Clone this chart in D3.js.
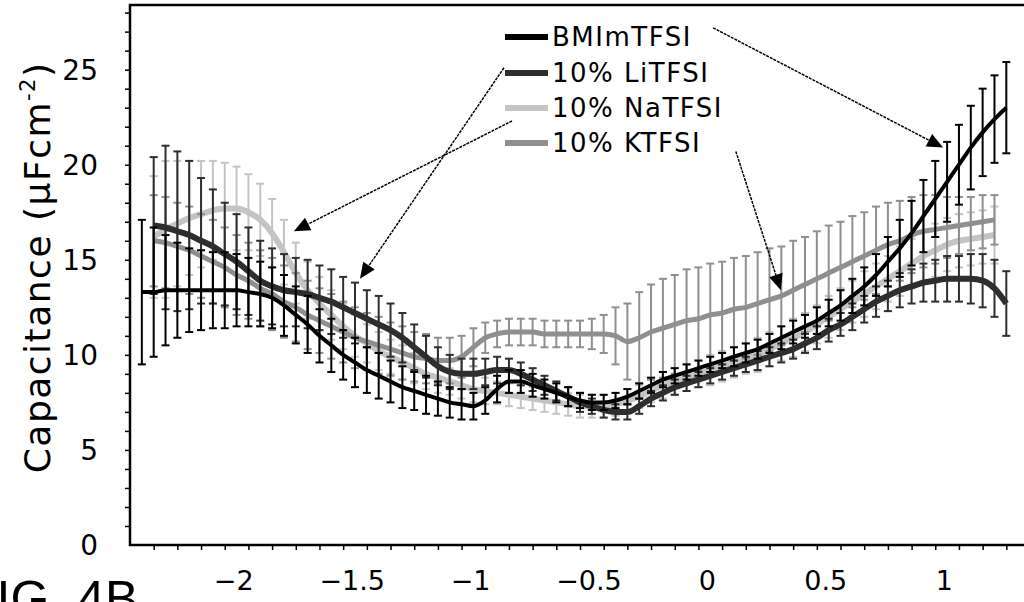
<!DOCTYPE html>
<html>
<head>
<meta charset="utf-8">
<script src="https://cdn.jsdelivr.net/npm/d3@7"></script>
<style>
  html, body { margin: 0; padding: 0; background: #fff; }
  svg { display: block; }
</style>
</head>
<body>
<div id="chart"></div>
<script>
// Potential (V) where each point was measured
const voltages = [
  -2.35, -2.30, -2.25, -2.20, -2.15, -2.10, -2.05, -2.00, -1.95, -1.90,
  -1.85, -1.80, -1.75, -1.70, -1.65, -1.60, -1.55, -1.50, -1.45, -1.40,
  -1.35, -1.30, -1.25, -1.20, -1.15, -1.10, -1.05, -1.00, -0.95, -0.90,
  -0.85, -0.80, -0.75, -0.70, -0.65, -0.60, -0.55, -0.50, -0.45, -0.40,
  -0.35, -0.30, -0.25, -0.20, -0.15, -0.10, -0.05, 0.00, 0.05, 0.10,
  0.15, 0.20, 0.25, 0.30, 0.35, 0.40, 0.45, 0.50, 0.55, 0.60,
  0.65, 0.70, 0.75, 0.80, 0.85, 0.90, 0.95, 1.00, 1.05, 1.10,
  1.15, 1.20, 1.25, 1.30
];

const seriesNames = ['BMImTFSI', '10% LiTFSI', '10% NaTFSI', '10% KTFSI'];

// capacitance, uF/cm2
const bmimValues = [
  13.3, 13.3, 13.4, 13.4, 13.4, 13.4, 13.4, 13.4, 13.4, 13.3,
  13.2, 13.0, 12.6, 12.1, 11.6, 11.0, 10.5, 10.0, 9.6, 9.2,
  8.9, 8.6, 8.3, 8.1, 7.9, 7.7, 7.5, 7.4, 7.3, 7.6,
  8.2, 8.6, 8.6, 8.4, 8.2, 8.0, 7.8, 7.6, 7.5, 7.5,
  7.6, 7.8, 8.1, 8.4, 8.7, 8.9, 9.1, 9.3, 9.5, 9.7,
  9.9, 10.1, 10.3, 10.6, 10.9, 11.2, 11.5, 11.8, 12.2, 12.6,
  13.1, 13.6, 14.2, 14.9, 15.6, 16.4, 17.3, 18.2, 19.1, 20.0,
  20.9, 21.7, 22.4, 23.0
];
const bmimErr = [
  3.8, 3.4, 2.9, 2.5, 2.2, 2.1, 2.0, 2.0, 1.9, 1.8,
  1.7, 1.6, 1.6, 1.5, 1.5, 1.4, 1.4, 1.3, 1.3, 1.2,
  1.2, 1.1, 1.1, 1.0, 1.0, 0.9, 0.8, 0.8, 0.7, 0.7,
  0.7, 0.6, 0.6, 0.6, 0.5, 0.5, 0.5, 0.4, 0.4, 0.4,
  0.4, 0.4, 0.4, 0.4, 0.4, 0.4, 0.4, 0.4, 0.4, 0.4,
  0.5, 0.5, 0.5, 0.5, 0.6, 0.6, 0.6, 0.7, 0.7, 0.8,
  0.9, 1.0, 1.1, 1.3, 1.5, 1.7, 1.9, 2.0, 2.1, 2.1,
  2.2, 2.3, 2.3, 2.4
];

const liValues = [
  null, 16.8, 16.7, 16.5, 16.3, 16.0, 15.7, 15.3, 14.9, 14.4,
  13.9, 13.6, 13.4, 13.3, 13.2, 13.0, 12.8, 12.5, 12.2, 11.9,
  11.6, 11.3, 10.9, 10.4, 9.9, 9.4, 9.1, 9.0, 9.0, 9.1,
  9.2, 9.2, 9.0, 8.7, 8.4, 8.1, 7.8, 7.5, 7.3, 7.1,
  7.0, 7.0, 7.3, 7.7, 8.0, 8.3, 8.5, 8.7, 8.9, 9.1,
  9.3, 9.5, 9.7, 9.9, 10.1, 10.3, 10.6, 10.9, 11.3, 11.6,
  12.0, 12.4, 12.8, 13.1, 13.4, 13.6, 13.8, 13.9, 14.0, 14.0,
  14.0, 13.9, 13.5, 12.7
];
const liErr = [
  null, 3.6, 4.3, 4.2, 3.9, 3.3, 3.0, 2.7, 2.5, 2.3,
  2.1, 2.0, 1.9, 1.8, 1.8, 1.7, 1.7, 1.6, 1.6, 1.5,
  1.5, 1.4, 1.3, 1.2, 1.1, 1.0, 0.9, 0.8, 0.8, 0.7,
  0.7, 0.6, 0.6, 0.6, 0.5, 0.5, 0.5, 0.5, 0.4, 0.4,
  0.4, 0.4, 0.4, 0.4, 0.4, 0.4, 0.4, 0.4, 0.4, 0.4,
  0.4, 0.4, 0.5, 0.5, 0.5, 0.5, 0.5, 0.6, 0.6, 0.6,
  0.7, 0.7, 0.8, 0.8, 0.9, 0.9, 1.0, 1.1, 1.2, 1.2,
  1.3, 1.4, 1.5, 1.7
];

const naValues = [
  null, 16.2, 16.6, 16.9, 17.2, 17.4, 17.6, 17.7, 17.7, 17.5,
  17.1, 16.4, 15.4, 14.3, 13.4, 12.7, 12.1, 11.5, 11.0, 10.6,
  10.2, 9.9, 9.6, 9.3, 9.0, 8.8, 8.6, 8.4, 8.2, 8.1,
  8.0, 7.9, 7.8, 7.7, 7.6, 7.5, 7.4, 7.3, 7.3, 7.3,
  7.4, 7.6, 7.8, 8.1, 8.4, 8.6, 8.8, 9.0, 9.2, 9.4,
  9.6, 9.8, 10.0, 10.3, 10.6, 10.9, 11.2, 11.6, 12.0, 12.4,
  12.8, 13.2, 13.6, 14.0, 14.4, 14.8, 15.2, 15.5, 15.8, 16.0,
  16.1, 16.2, 16.3, null
];
const naErr = [
  null, 3.2, 3.6, 3.3, 3.0, 2.8, 2.6, 2.4, 2.2, 2.0,
  1.9, 1.8, 1.7, 1.6, 1.5, 1.4, 1.3, 1.2, 1.1, 1.0,
  1.0, 0.9, 0.9, 0.8, 0.8, 0.8, 0.7, 0.7, 0.7, 0.7,
  0.6, 0.6, 0.6, 0.6, 0.6, 0.6, 0.6, 0.6, 0.6, 0.6,
  0.6, 0.6, 0.6, 0.6, 0.7, 0.7, 0.7, 0.7, 0.8, 0.8,
  0.8, 0.8, 0.9, 0.9, 0.9, 1.0, 1.0, 1.0, 1.1, 1.1,
  1.1, 1.2, 1.2, 1.2, 1.3, 1.3, 1.3, 1.4, 1.4, 1.4,
  1.4, 1.4, 1.5, null
];

const kValues = [
  null, 16.0, 15.9, 15.7, 15.5, 15.2, 14.9, 14.6, 14.2, 13.9,
  13.5, 13.2, 12.8, 12.5, 12.1, 11.8, 11.5, 11.2, 10.9, 10.7,
  10.5, 10.3, 10.1, 9.9, 9.8, 9.7, 9.7, 9.9, 10.4, 10.9,
  11.1, 11.2, 11.2, 11.2, 11.1, 11.1, 11.1, 11.1, 11.1, 11.1,
  11.0, 10.7, 10.9, 11.2, 11.4, 11.6, 11.8, 11.9, 12.1, 12.2,
  12.4, 12.5, 12.7, 12.9, 13.1, 13.4, 13.7, 14.0, 14.3, 14.6,
  14.9, 15.2, 15.5, 15.8, 16.0, 16.3, 16.5, 16.6, 16.7, 16.8,
  16.9, 17.0, 17.1, null
];
const kErr = [
  null, 2.4, 2.4, 2.3, 2.3, 2.2, 2.2, 2.1, 2.1, 2.0,
  2.0, 1.9, 1.9, 1.8, 1.8, 1.7, 1.7, 1.6, 1.6, 1.5,
  1.5, 1.4, 1.4, 1.3, 1.3, 1.2, 1.2, 1.1, 1.0, 0.8,
  0.7, 0.7, 0.7, 0.7, 0.7, 0.7, 0.7, 0.7, 0.8, 1.0,
  1.5, 2.0, 2.4, 2.5, 2.6, 2.6, 2.7, 2.7, 2.7, 2.7,
  2.7, 2.7, 2.7, 2.7, 2.6, 2.6, 2.5, 2.5, 2.5, 2.4,
  2.4, 2.3, 2.3, 2.2, 2.1, 2.0, 1.9, 1.8, 1.6, 1.5,
  1.4, 1.4, 1.3, null
];

const xTickValues = [-2, -1.5, -1, -0.5, 0, 0.5, 1];
const yTickValues = [0, 5, 10, 15, 20, 25];

// callout arrows, [startV, startC, tipV, tipC] in data units
const arrowBmim = [0.062, 27.2, 1.033, 20.9];
const arrowLi = [-0.821, 25.1, -1.429, 14.0];
const arrowNa = [-0.787, 22.3, -1.708, 16.5];
const arrowK = [0.158, 20.7, 0.348, 13.4];

const W = 1024, H = 602;
const margin = { left: 130, top: 5, right: -6, bottom: 57 };

const svg = d3.select('#chart').append('svg')
  .attr('width', W).attr('height', H)
  .style('font-family', '"DejaVu Sans", Verdana, sans-serif');

const x = d3.scaleLinear().domain([-2.4, 1.4]).range([margin.left, W - margin.right]);
const y = d3.scaleLinear().domain([0, 28.4]).range([H - margin.bottom, margin.top]);

const series = [
  { name: seriesNames[2], vals: naValues, err: naErr, color: '#c4c4c4', width: 6 },
  { name: seriesNames[3], vals: kValues, err: kErr, color: '#8f8f8f', width: 5 },
  { name: seriesNames[1], vals: liValues, err: liErr, color: '#2e2e2e', width: 6 },
  { name: seriesNames[0], vals: bmimValues, err: bmimErr, color: '#000', width: 4 }
];

const plot = svg.append('g');
const line = d3.line()
  .defined(d => d.c != null)
  .x(d => x(d.v)).y(d => y(d.c))
  .curve(d3.curveMonotoneX);

series.forEach(s => {
  const pts = voltages.map((v, i) => ({ v, c: s.vals[i], e: s.err[i] }))
    .filter(d => d.c != null);
  const g = plot.append('g');
  const bars = g.selectAll('g.eb').data(pts).enter().append('g')
    .attr('stroke', s.color).attr('stroke-width', 2);
  bars.append('line')
    .attr('x1', d => x(d.v)).attr('x2', d => x(d.v))
    .attr('y1', d => y(d.c - d.e)).attr('y2', d => y(d.c + d.e));
  bars.append('line')
    .attr('x1', d => x(d.v) - 4).attr('x2', d => x(d.v) + 4)
    .attr('y1', d => y(d.c + d.e)).attr('y2', d => y(d.c + d.e));
  bars.append('line')
    .attr('x1', d => x(d.v) - 4).attr('x2', d => x(d.v) + 4)
    .attr('y1', d => y(d.c - d.e)).attr('y2', d => y(d.c - d.e));
  g.append('path').datum(pts)
    .attr('fill', 'none').attr('stroke', s.color)
    .attr('stroke-width', s.width).attr('stroke-linejoin', 'round')
    .attr('d', line);
});

// frame
svg.append('rect')
  .attr('x', x(-2.4)).attr('y', y(28.4))
  .attr('width', x(1.4) - x(-2.4)).attr('height', y(0) - y(28.4))
  .attr('fill', 'none').attr('stroke', '#000').attr('stroke-width', 2.5);

// x axis ticks (minor every 0.1)
const xAxis = svg.append('g').attr('transform', `translate(0,${y(0)})`);
xAxis.call(d3.axisBottom(x).tickValues(d3.range(-23, 14).map(d => d / 10)).tickSize(5).tickFormat(''));
xAxis.select('.domain').remove();
xAxis.selectAll('line').attr('stroke-width', 1.5);
svg.append('g').selectAll('text').data(xTickValues).enter().append('text')
  .attr('x', d => x(d) + 9).attr('y', 590)
  .attr('text-anchor', 'middle').attr('font-size', 27)
  .text(d => d3.format('')(d).replace('-', '\u2212'));

// y axis ticks (minor every 1)
const yAxis = svg.append('g').attr('transform', `translate(${x(-2.4)},0)`);
yAxis.call(d3.axisLeft(y).tickValues(d3.range(1, 29)).tickSize(5).tickFormat(''));
yAxis.select('.domain').remove();
yAxis.selectAll('line').attr('stroke-width', 1.5);
svg.append('g').selectAll('text').data(yTickValues).enter().append('text')
  .attr('x', 98).attr('y', d => y(d))
  .attr('dy', '0.36em')
  .attr('text-anchor', 'end').attr('font-size', 28)
  .text(d => d);

// y title
const yt = svg.append('text')
  .attr('transform', `translate(50,${y(14.6)}) rotate(-90)`)
  .attr('text-anchor', 'middle').attr('font-size', 36)
  .attr('letter-spacing', 1.5);
yt.append('tspan').text('Capacitance (\u03bcFcm');
yt.append('tspan').attr('font-size', 21).attr('dy', -15).text('-2');
yt.append('tspan').attr('dy', 15).text(')');

// legend
const legendColors = ['#000', '#2e2e2e', '#c4c4c4', '#8f8f8f'];
const legendY = [37, 73, 108, 143];
const lg = svg.append('g');
seriesNames.forEach((n, i) => {
  lg.append('line').attr('x1', 505).attr('x2', 548)
    .attr('y1', legendY[i]).attr('y2', legendY[i])
    .attr('stroke', legendColors[i]).attr('stroke-width', 6);
  lg.append('text').attr('x', 552).attr('y', legendY[i]).attr('dy', '0.36em')
    .attr('font-size', 26).attr('letter-spacing', 1.5).text(n);
});

// callout arrows
function arrow(a) {
  const x1 = x(a[0]), y1 = y(a[1]), x2 = x(a[2]), y2 = y(a[3]);
  const ang = Math.atan2(y2 - y1, x2 - x1);
  const len = 16, half = 7;
  const bx = x2 - len * Math.cos(ang), by = y2 - len * Math.sin(ang);
  svg.append('line').attr('x1', x1).attr('y1', y1).attr('x2', bx).attr('y2', by)
    .attr('stroke', '#000').attr('stroke-width', 1.5).attr('stroke-dasharray', '3,1');
  const p = d3.path();
  p.moveTo(x2, y2);
  p.lineTo(bx + half * Math.sin(ang), by - half * Math.cos(ang));
  p.lineTo(bx - half * Math.sin(ang), by + half * Math.cos(ang));
  p.closePath();
  svg.append('path').attr('d', p.toString()).attr('fill', '#000');
}
[arrowBmim, arrowLi, arrowNa, arrowK].forEach(arrow);

// figure label, partly cut off at bottom left as in the scan
svg.append('text').attr('x', -34).attr('y', 616)
  .attr('font-family', '"Liberation Sans", Arial, sans-serif')
  .attr('font-size', 50)
  .text('FIG. 4B');
</script>
</body>
</html>
